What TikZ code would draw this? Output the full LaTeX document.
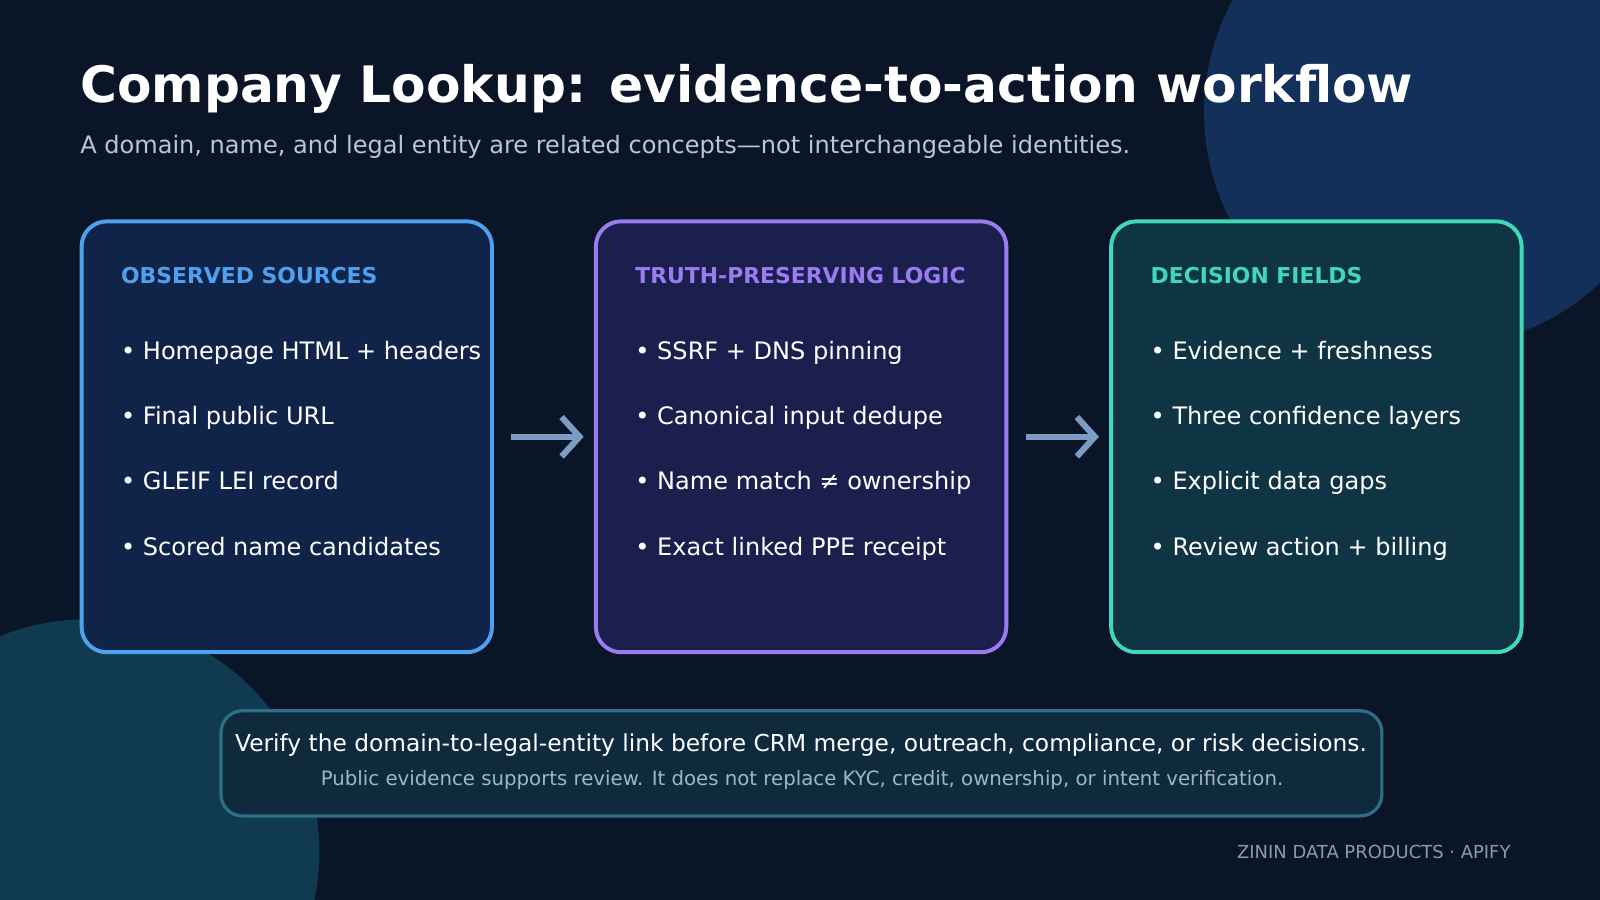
\documentclass[tikz,border=0pt]{standalone}
\usepackage{fontspec}
\setmainfont{DejaVu Sans}
\usetikzlibrary{positioning,arrows.meta}
\definecolor{bgnavy}{HTML}{0A1628}
\definecolor{blobblue}{HTML}{13305A}
\definecolor{blobteal}{HTML}{0F3A50}
\definecolor{subgrey}{HTML}{B8C7DC}
\definecolor{srcline}{HTML}{4EA1F0}
\definecolor{srcfill}{HTML}{10244A}
\definecolor{logline}{HTML}{9B7CF0}
\definecolor{logfill}{HTML}{1A1F4E}
\definecolor{decline}{HTML}{3FD8B8}
\definecolor{decfill}{HTML}{0F3443}
\definecolor{flowarrow}{HTML}{7D9CC4}
\definecolor{noteline}{HTML}{2F6E88}
\definecolor{notefill}{HTML}{0E2A3C}
\definecolor{notegrey}{HTML}{9FB5CC}
\definecolor{footgrey}{HTML}{8A9AB0}
\tikzset{
  panel/.style={draw=#1, line width=1.1pt, rounded corners=7pt, minimum width=4.02cm, minimum height=4.22cm, anchor=north west},
  head/.style={anchor=base west, inner sep=0pt, text=#1, font=\bfseries\fontsize{6.1}{8}\selectfont},
  item/.style={anchor=base west, inner sep=0pt, text=white, font=\fontsize{6.7}{9}\selectfont},
  flow/.style={->, line width=1.7pt, draw=flowarrow, >={Straight Barb[length=5pt,width=11pt]}}
}
\begin{document}
\begin{tikzpicture}[x=0.01cm,y=-0.01cm]
\fill[bgnavy] (0,0) rectangle (1568,882);
\begin{scope}
\clip (0,0) rectangle (1568,882);
\fill[blobblue] (1410,110) circle (230);
\fill[blobteal] (85,835) circle (228);
\end{scope}
\node[anchor=base west, inner sep=0pt, text=white, font=\bfseries\fontsize{14}{17}\selectfont] (title) at (78,100) {Company Lookup: evidence-to-action workflow};
\node[anchor=base west, inner sep=0pt, text=subgrey, font=\fontsize{6.7}{9}\selectfont] (sub) at (78,150) {A domain, name, and legal entity are related concepts—not interchangeable identities.};
% three panels
\node[panel=srcline, fill=srcfill] (src) at (78,215) {};
\node[panel=logline, fill=logfill] (logic) at (582,215) {};
\node[panel=decline, fill=decfill] (dec) at (1087,215) {};
\node[head=srcline] at (118,278) {OBSERVED SOURCES};
\node[head=logline] at (622,278) {TRUTH-PRESERVING LOGIC};
\node[head=decline] at (1127,278) {DECISION FIELDS};
\foreach \t [count=\i] in {Homepage HTML + headers, Final public URL, GLEIF LEI record, Scored name candidates}
  \node[item] at (118,288+64*\i) {• \t};
\foreach \t [count=\i] in {SSRF + DNS pinning, Canonical input dedupe, Name match ≠ ownership, Exact linked PPE receipt}
  \node[item] at (622,288+64*\i) {• \t};
\foreach \t [count=\i] in {Evidence + freshness, Three confidence layers, Explicit data gaps, Review action + billing}
  \node[item] at (1127,288+64*\i) {• \t};
\draw[flow] ([xshift=0.17cm]src.east) -- ([xshift=-0.1cm]logic.west);
\draw[flow] ([xshift=0.17cm]logic.east) -- ([xshift=-0.1cm]dec.west);
% note
\node[draw=noteline, fill=notefill, line width=0.9pt, rounded corners=6pt, minimum width=11.37cm, minimum height=1.03cm, anchor=north west] (note) at (215,695) {};
\node[text=white, inner sep=0pt, font=\fontsize{6.5}{9}\selectfont, anchor=base] at (785,736) {Verify the domain-to-legal-entity link before CRM merge, outreach, compliance, or risk decisions.};
\node[text=notegrey, inner sep=0pt, font=\fontsize{5.5}{8}\selectfont, anchor=base] at (786,770) {Public evidence supports review. It does not replace KYC, credit, ownership, or intent verification.};
\node[text=footgrey, inner sep=0pt, font=\fontsize{5}{6}\selectfont, anchor=base east] (foot) at (1481,841) {ZININ DATA PRODUCTS · APIFY};
\end{tikzpicture}
\end{document}
